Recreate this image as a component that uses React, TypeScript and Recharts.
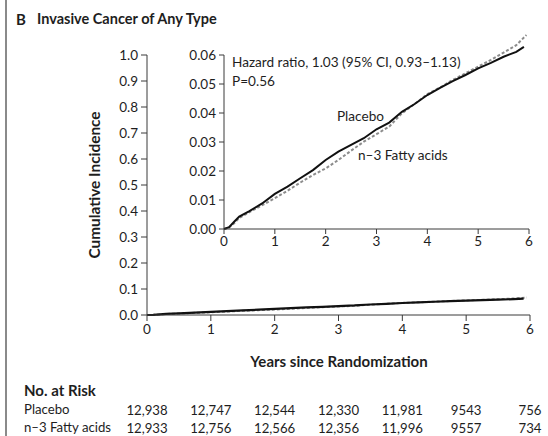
import React from 'react';
import { LineChart, Line, XAxis, YAxis, ReferenceLine } from 'recharts';

const placeboYears = [0, 0.1, 0.2, 0.3, 0.5, 0.75, 1, 1.25, 1.5, 1.75, 2, 2.25, 2.5, 2.75, 3, 3.25, 3.5, 3.75, 4, 4.25, 4.5, 4.75, 5, 5.25, 5.5, 5.75, 5.9];
const placeboValues = [0, 0.0006, 0.0025, 0.0043, 0.0062, 0.0088, 0.0121, 0.0146, 0.0175, 0.0203, 0.0238, 0.0267, 0.029, 0.0313, 0.0344, 0.0367, 0.0404, 0.0431, 0.0462, 0.0487, 0.051, 0.0531, 0.0554, 0.0573, 0.0594, 0.0611, 0.0628];
const fattyYears = [0, 0.1, 0.2, 0.3, 0.5, 0.75, 1, 1.25, 1.5, 1.75, 2, 2.25, 2.5, 2.75, 3, 3.25, 3.5, 3.75, 4, 4.25, 4.5, 4.75, 5, 5.25, 5.5, 5.75, 5.95];
const fattyValues = [0, 0.0005, 0.002, 0.0038, 0.0058, 0.0082, 0.0106, 0.0132, 0.016, 0.0186, 0.0209, 0.0238, 0.027, 0.0301, 0.0327, 0.0353, 0.0399, 0.0431, 0.0465, 0.0488, 0.0514, 0.0537, 0.056, 0.0583, 0.0608, 0.0634, 0.0669];

const yearTicks = [0, 1, 2, 3, 4, 5, 6];
const mainYTicks = [0, 0.1, 0.2, 0.3, 0.4, 0.5, 0.6, 0.7, 0.8, 0.9, 1.0];
const insetYTicks = [0, 0.01, 0.02, 0.03, 0.04, 0.05, 0.06];
const placeboRisk = ['12,938', '12,747', '12,544', '12,330', '11,981', '9543', '756'];
const fattyRisk = ['12,933', '12,756', '12,566', '12,356', '11,996', '9557', '734'];

const placeboData = placeboYears.map((t, i) => ({ t, v: placeboValues[i] }));
const fattyData = fattyYears.map((t, i) => ({ t, v: fattyValues[i] }));

const FONT = 'Lato, "Liberation Sans", sans-serif';
const TEXT = '#1e1e1e';
const AXIS = '#3a3a3a';

const YearTick = (props: any) => {
  const { x, y, payload, index } = props;
  return (
    <g>
      <text x={x} y={y} dy="0.71em" textAnchor="middle" fontSize={13.5} fill={TEXT} fontFamily={FONT}>
        {payload.value}
      </text>
      <text x={x} y={y + 86} textAnchor="middle" dominantBaseline="central" fontSize={13.2} fill={TEXT} fontFamily={FONT}>
        {placeboRisk[index]}
      </text>
      <text x={x} y={y + 104} textAnchor="middle" dominantBaseline="central" fontSize={13.2} fill={TEXT} fontFamily={FONT}>
        {fattyRisk[index]}
      </text>
    </g>
  );
};

const abs = (left: number, top: number, extra: any = {}) => ({
  position: 'absolute' as const,
  left,
  top,
  whiteSpace: 'nowrap' as const,
  color: TEXT,
  fontFamily: FONT,
  lineHeight: 1,
  ...extra,
});

export default function App() {
  return (
    <div style={{ position: 'absolute', left: 0, top: 0, width: 548, height: 436, background: '#fff', overflow: 'hidden', fontFamily: FONT }}>
      <div style={{ position: 'absolute', left: 5, top: 0, width: 2, height: 436, background: '#8a8a8a' }} />

      <div style={abs(16, 19, { transform: 'translateY(-50%)', fontSize: 15, fontWeight: 700 })}>B</div>
      <div style={abs(37, 19, { transform: 'translateY(-50%)', fontSize: 14.5, fontWeight: 700 })}>Invasive Cancer of Any Type</div>

      <div style={{ position: 'absolute', left: 0, top: 0 }}>
        <LineChart width={548} height={436} margin={{ top: 55, right: 18, left: 0, bottom: 91 }}>
          <XAxis
            dataKey="t"
            type="number"
            domain={[0, 6]}
            ticks={yearTicks}
            height={30}
            stroke={AXIS}
            tickSize={6}
            tickMargin={3}
            tick={<YearTick />}
          />
          <YAxis
            type="number"
            domain={[0, 1]}
            ticks={mainYTicks}
            width={147}
            stroke={AXIS}
            tickSize={6}
            tickMargin={3}
            tickFormatter={(v: number) => v.toFixed(1)}
            tick={{ fill: TEXT, fontSize: 13.5, fontFamily: FONT }}
          />
          <Line data={fattyData} dataKey="v" type="linear" stroke="#8c8c8c" strokeWidth={2} strokeDasharray="3 2" dot={false} isAnimationActive={false} />
          <Line data={placeboData} dataKey="v" type="linear" stroke="#111" strokeWidth={2.2} dot={false} isAnimationActive={false} />
        </LineChart>
      </div>

      <div style={{ position: 'absolute', left: 160, top: 20 }}>
        <LineChart width={380} height={235} margin={{ top: 6, right: 11, left: 0, bottom: 6 }}>
          <XAxis
            dataKey="t"
            type="number"
            domain={[0, 6]}
            ticks={yearTicks}
            height={20}
            stroke={AXIS}
            tickSize={5}
            tickMargin={2}
            tick={{ fill: TEXT, fontSize: 13.5, fontFamily: FONT }}
          />
          <YAxis
            type="number"
            domain={[0, 0.07]}
            ticks={insetYTicks}
            width={64}
            stroke={AXIS}
            axisLine={false}
            tickSize={5}
            tickMargin={3}
            tickFormatter={(v: number) => v.toFixed(2)}
            tick={{ fill: TEXT, fontSize: 13.5, fontFamily: FONT }}
          />
          <ReferenceLine segment={[{ x: 0, y: 0 }, { x: 0, y: 0.06 }]} stroke={AXIS} strokeWidth={1} />
          <Line data={fattyData} dataKey="v" type="linear" stroke="#8c8c8c" strokeWidth={2} strokeDasharray="3 2" dot={false} isAnimationActive={false} />
          <Line data={placeboData} dataKey="v" type="linear" stroke="#111" strokeWidth={2} dot={false} isAnimationActive={false} />
        </LineChart>
      </div>

      <div style={abs(232, 63, { transform: 'translateY(-50%)', fontSize: 13.6 })}>Hazard ratio, 1.03 (95% CI, 0.93–1.13)</div>
      <div style={abs(232, 82, { transform: 'translateY(-50%)', fontSize: 13.6 })}>P=0.56</div>
      <div style={abs(337, 117, { transform: 'translateY(-50%)', fontSize: 13.6 })}>Placebo</div>
      <div style={abs(358, 156, { transform: 'translateY(-50%)', fontSize: 13.6 })}>n–3 Fatty acids</div>

      <div style={abs(95, 185, { transform: 'translate(-50%, -50%) rotate(-90deg)', fontSize: 15.4, fontWeight: 700 })}>Cumulative Incidence</div>
      <div style={abs(339, 361, { transform: 'translate(-50%, -50%)', fontSize: 15, fontWeight: 700 })}>Years since Randomization</div>

      <div style={abs(24, 390, { transform: 'translateY(-50%)', fontSize: 15, fontWeight: 700 })}>No. at Risk</div>
      <div style={abs(24, 410, { transform: 'translateY(-50%)', fontSize: 13.2 })}>Placebo</div>
      <div style={abs(24, 428, { transform: 'translateY(-50%)', fontSize: 13.2 })}>n–3 Fatty acids</div>
    </div>
  );
}
